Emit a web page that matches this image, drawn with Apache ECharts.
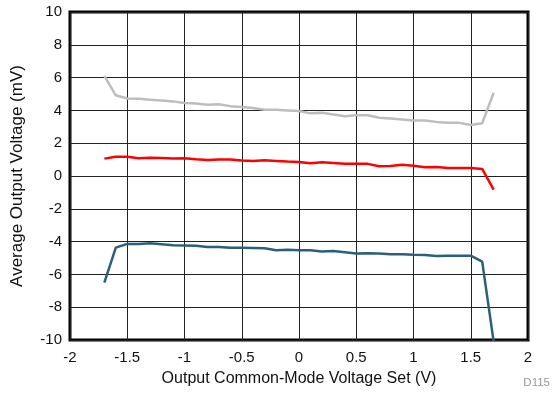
<!DOCTYPE html>
<html><head><meta charset="utf-8">
<script src="https://cdn.jsdelivr.net/npm/echarts@6/dist/echarts.min.js"></script>
<style>html,body{margin:0;padding:0;background:#fff}#c{width:553px;height:395px}</style>
</head><body><div id="c"></div>
<script>
const xValues = [-1.7,-1.6,-1.5,-1.4,-1.3,-1.2,-1.1,-1.0,-0.9,-0.8,-0.7,-0.6,-0.5,-0.4,-0.3,-0.2,-0.1,0,0.1,0.2,0.3,0.4,0.5,0.6,0.7,0.8,0.9,1.0,1.1,1.2,1.3,1.4,1.5,1.6,1.7];
const greySeries = [6.1,4.92,4.73,4.71,4.65,4.6,4.55,4.45,4.42,4.34,4.38,4.26,4.2,4.15,4.04,4.04,4.0,3.96,3.82,3.85,3.75,3.65,3.71,3.7,3.55,3.51,3.45,3.39,3.39,3.3,3.24,3.24,3.11,3.22,5.08];
const redSeries = [1.06,1.18,1.18,1.08,1.12,1.1,1.06,1.08,1.02,0.98,1.0,1.0,0.94,0.92,0.96,0.92,0.88,0.86,0.78,0.84,0.8,0.74,0.74,0.74,0.59,0.61,0.68,0.63,0.53,0.55,0.49,0.49,0.49,0.43,-0.83];
const blueSeries = [-6.5,-4.37,-4.14,-4.14,-4.1,-4.16,-4.22,-4.24,-4.26,-4.33,-4.33,-4.37,-4.37,-4.39,-4.41,-4.53,-4.49,-4.53,-4.53,-4.61,-4.57,-4.65,-4.73,-4.71,-4.73,-4.77,-4.77,-4.8,-4.82,-4.88,-4.86,-4.86,-4.86,-5.22,-10.1];
const xTicks = [-2,-1.5,-1,-0.5,0,0.5,1,1.5,2];
const yTicks = [-10,-8,-6,-4,-2,0,2,4,6,8,10];

const pair = arr => xValues.map((x,i)=>[x,arr[i]]);
const chart = echarts.init(document.getElementById('c'), null, {renderer:'canvas'});
const font = 'Liberation Sans, Arial, sans-serif';
chart.setOption({
  animation:false,
  grid:{left:70,right:25,top:12,bottom:55,show:true,borderColor:'#000',borderWidth:3,backgroundColor:'#fff'},
  xAxis:{type:'value',min:-2,max:2,interval:0.5,
    name:'Output Common-Mode Voltage Set (V)',nameLocation:'middle',nameGap:31,
    nameTextStyle:{fontFamily:font,fontSize:16,color:'#111'},
    axisLine:{show:false},axisTick:{show:false},
    axisLabel:{fontFamily:font,fontSize:15,color:'#111',margin:10,formatter:v=>String(v)},
    splitLine:{show:true,lineStyle:{color:'#222',width:1}}},
  yAxis:{type:'value',min:-10,max:10,interval:2,
    name:'Average Output Voltage (mV)',nameLocation:'middle',nameGap:44,
    nameTextStyle:{fontFamily:font,fontSize:17,color:'#111'},
    axisLine:{show:false},axisTick:{show:false},
    axisLabel:{fontFamily:font,fontSize:15,color:'#111',margin:8},
    splitLine:{show:true,lineStyle:{color:'#222',width:1}}},
  graphic:[{type:'text',right:3,bottom:6,style:{text:'D115',fontFamily:font,fontSize:11.5,fill:'#999'}}],
  series:[
    {type:'line',data:pair(greySeries),showSymbol:false,lineStyle:{color:'#bdbdbd',width:2.5},clip:true},
    {type:'line',data:pair(redSeries),showSymbol:false,lineStyle:{color:'#ff0000',width:2.5},clip:true},
    {type:'line',data:pair(blueSeries),showSymbol:false,lineStyle:{color:'#2b6078',width:2.5},clip:true}
  ]
});
</script></body></html>
